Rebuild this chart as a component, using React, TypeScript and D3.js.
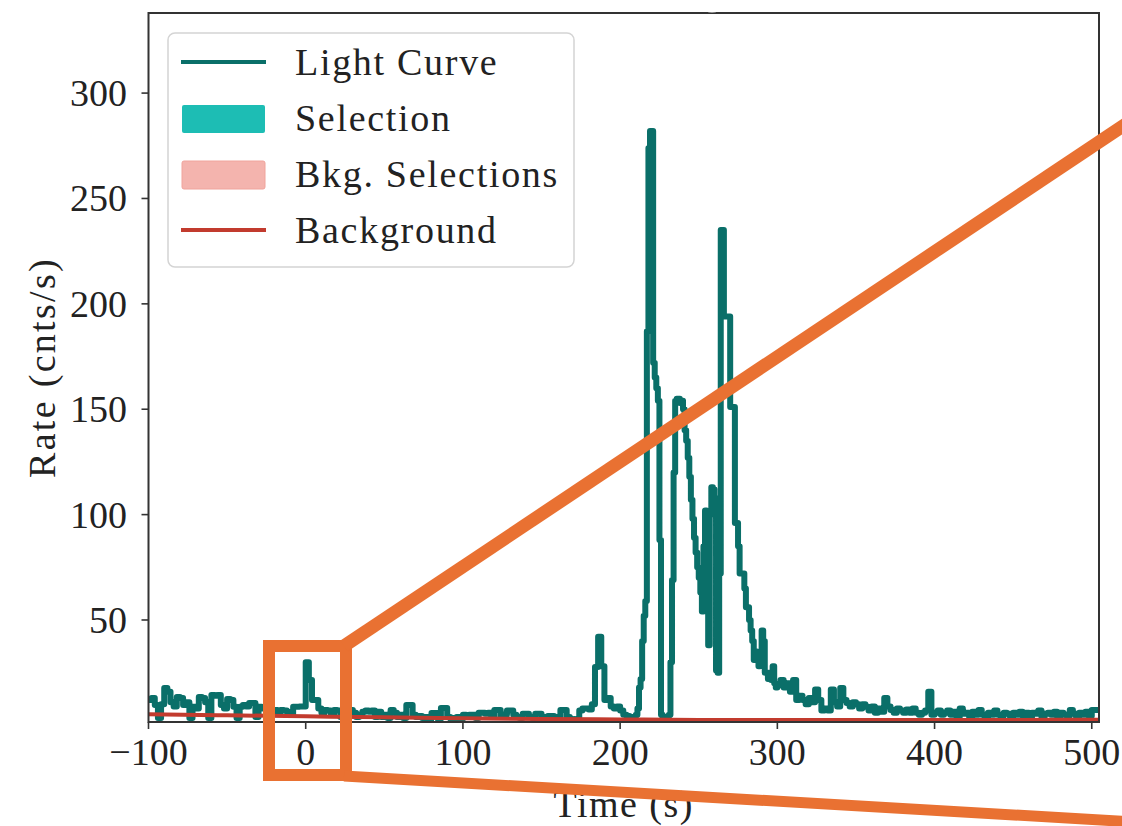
import React from "react";
import * as d3 from "d3";

// Light curve, t = -100 .. 208 s (2 s bins)
const preStart = -100;
const preBin = 2;
const preRates = [
  12, 13, 9.7, 3.5, 10, 17.7, 16, 11, 9, 13.5,
  13, 9.7, 11, 3.5, 8.8, 8, 13.5, 13, 11, 3.5,
  14.4, 14, 14.4, 9.7, 8, 12.5, 12, 8.8, 3.5, 8.8,
  9.7, 9, 10.6, 10.6, 4, 8.8, 8, 9, 6, 7,
  7.3, 6, 7.3, 7, 6.4, 5, 8.8, 8.8, 9, 9,
  30, 21.5, 12, 12, 8, 6, 7.3, 7, 5, 7.3,
  7, 4, 6, 5, 7.3, 6, 4, 5, 6.5, 7,
  6.5, 7, 4, 6.5, 4, 5, 3.5, 7.3, 6, 4,
  5, 3.5, 9.7, 9.7, 5, 4, 4.5, 3.5, 4, 3,
  5.9, 5.9, 3, 8.2, 8.2, 4, 3, 3.5, 4, 3,
  5, 4.5, 5, 5, 3.5, 6, 6, 5.5, 6, 4,
  7.3, 7.3, 4, 5, 7, 7, 5, 4, 3.5, 5.5,
  5.5, 4, 3.5, 5.5, 5.5, 4, 3.5, 4.5, 4.5, 3,
  4, 7.3, 7.3, 4, 3, 2.5, 3, 7, 8, 8,
  7.5, 10, 27.7, 42, 28, 12, 13, 9, 8, 9,
  7, 5, 4.5, 4, 4,
];

// Light curve, t = 210 .. 299 s (1 s bins)
const peakStart = 210;
const peakBin = 1;
const peakRates = [
  5, 8, 18, 22, 40, 52, 59, 187, 274, 282,
  282, 172, 165, 160, 154, 88, 5, 3, 4, 3,
  4, 5, 30, 69, 120, 154, 155, 155, 153, 154,
  150, 140, 135, 127, 118, 107, 98, 89, 82, 75,
  70, 63, 54, 85, 102, 100, 38, 100, 113, 112,
  108, 26, 25, 72, 235, 235, 194, 194, 194, 194,
  151, 151, 151, 96, 96, 85, 72, 72, 72, 65,
  56, 56, 50, 45, 40, 31, 35, 31, 28, 31,
  45, 40, 25, 25, 22, 25, 21.5, 28, 20, 18,
];

// Light curve, t = 300 .. 504 s (2 s bins)
const tailStart = 300;
const tailBin = 2;
const tailRates = [
  19, 21.5, 18, 20, 16, 21.5, 12, 14, 12, 10,
  13, 11, 17, 12, 7, 8, 7, 17, 11, 9,
  17.7, 12, 10.6, 9, 11, 10, 8, 10, 8.8, 7,
  9, 6, 8, 6.5, 13, 9, 7.3, 6, 8, 7,
  6, 7.5, 6, 8, 6, 5, 6, 7, 16, 5,
  6, 7, 5, 6, 7, 5, 6.5, 4, 8, 5.5,
  6, 4, 6.5, 5, 7.3, 5, 4, 6, 5, 7,
  5, 4.5, 6, 5.5, 4, 6, 5, 6.5, 4.5, 6,
  4, 6, 5.5, 7, 4, 5.5, 6, 5, 6.5, 4,
  6, 5, 4.5, 7.3, 5.5, 4, 6, 5, 6.5, 4.5,
  7.3, 7.3, 7.3,
];

// Background fit
const bkgTimes = [-100, -50, 0, 50, 100, 150, 200, 250, 300, 350, 400, 450, 504.6];
const bkgRates = [5.3, 4.8, 4.3, 3.8, 3.4, 3.0, 2.8, 2.6, 2.5, 2.5, 2.5, 2.6, 2.7];

const xTicks = [-100, 0, 100, 200, 300, 400, 500];
const yTicks = [50, 100, 150, 200, 250, 300];
const xDomain = [-100, 504.6];
const yDomain = [1.6, 338];

const legendItems = ["Light Curve", "Selection", "Bkg. Selections", "Background"];

function buildSeries(start: number, bin: number, rates: number[]) {
  return rates.map((r, i) => ({ t: start + i * bin, r }));
}

export default function App() {
  const left = 148.5, right = 1099, top = 13, bottom = 722;
  const x = d3.scaleLinear().domain(xDomain).range([left, right]);
  const y = d3.scaleLinear().domain(yDomain).range([bottom, top]);

  const series = [
    ...buildSeries(preStart, preBin, preRates),
    ...buildSeries(peakStart, peakBin, peakRates),
    ...buildSeries(tailStart, tailBin, tailRates),
  ];
  const lc = d3
    .line<{ t: number; r: number }>()
    .x((d) => x(d.t))
    .y((d) => y(d.r))
    .curve(d3.curveStepAfter);
  const bkgLine = d3
    .line<number>()
    .x((_, i) => x(bkgTimes[i]))
    .y((d) => y(d))
    .curve(d3.curveMonotoneX);

  const font = "'Liberation Serif', 'DejaVu Serif', serif";
  const teal = "#0a6f69";
  const red = "#c23b2e";
  const orange = "#e97132";
  const fs = 38;

  const fmt = (v: number) => (v < 0 ? "\u2212" + Math.abs(v) : String(v));

  return (
    <div style={{ position: "absolute", left: 0, top: 0, width: 1122, height: 826, overflow: "hidden", background: "#fff" }}>
      <svg width={1122} height={826} style={{ display: "block" }}>
        <defs>
          <clipPath id="plotClip">
            <rect x={left} y={top} width={right - left} height={bottom - top} />
          </clipPath>
        </defs>
        <rect x={0} y={0} width={1122} height={826} fill="#fff" />
        <g clipPath="url(#plotClip)">
          <path d={lc(series) || ""} fill="none" stroke={teal} strokeWidth={6} strokeLinejoin="round" strokeLinecap="round" />
          <path d={bkgLine(bkgRates) || ""} fill="none" stroke={red} strokeWidth={4} />
        </g>
        {/* spines */}
        <rect x={left} y={top} width={right - left} height={bottom - top} fill="none" stroke="#333" strokeWidth={2} />
        <ellipse cx={712} cy={8} rx={9} ry={4.5} fill="#fff" />
        {/* x ticks */}
        {xTicks.map((v) => (
          <g key={"x" + v}>
            <line x1={x(v)} x2={x(v)} y1={bottom} y2={bottom + 7} stroke="#333" strokeWidth={1.6} />
            <text x={x(v)} y={765} textAnchor="middle" fontFamily={font} fontSize={fs} fill="#222">
              {fmt(v)}
            </text>
          </g>
        ))}
        {/* y ticks */}
        {yTicks.map((v) => (
          <g key={"y" + v}>
            <line x1={left - 7} x2={left} y1={y(v)} y2={y(v)} stroke="#333" strokeWidth={1.6} />
            <text x={127} y={y(v)} textAnchor="end" dominantBaseline="central" fontFamily={font} fontSize={fs} fill="#222">
              {v}
            </text>
          </g>
        ))}
        <text
          transform={`translate(42, ${(top + bottom) / 2}) rotate(-90)`}
          textAnchor="middle"
          dominantBaseline="central"
          fontFamily={font}
          fontSize={fs}
          letterSpacing={2.3}
          fill="#222"
        >
          Rate (cnts/s)
        </text>
        <text x={(left + right) / 2} y={817} textAnchor="middle" fontFamily={font} fontSize={fs} letterSpacing={1.5} fill="#222">
          Time (s)
        </text>
        {/* legend */}
        <g>
          <rect x={168} y={33} width={406} height={234} rx={7} fill="#fff" fillOpacity={0.85} stroke="#d4d4d4" strokeWidth={1.5} />
          <line x1={181} x2={266} y1={62} y2={62} stroke={teal} strokeWidth={4} />
          <rect x={182} y={105} width={83} height={28} rx={2} fill="#1dbdb4" />
          <rect x={182} y={161} width={83} height={28} rx={2} fill="#f4b4ae" stroke="#f0a49c" strokeWidth={1} />
          <line x1={181} x2={266} y1={230} y2={230} stroke={red} strokeWidth={4} />
          {legendItems.map((s, i) => (
            <text key={s} x={295} y={75 + i * 56} fontFamily={font} fontSize={fs} letterSpacing={1.7} fill="#222">
              {s}
            </text>
          ))}
        </g>
        {/* orange zoom annotation */}
        <g stroke={orange} fill="none">
          <rect x={269} y={646} width={77} height={129} strokeWidth={12} />
          <line x1={344} x2={1135} y1={646} y2={118} strokeWidth={13} />
          <line x1={344} x2={1135} y1={776} y2={822} strokeWidth={11} />
        </g>
      </svg>
    </div>
  );
}
